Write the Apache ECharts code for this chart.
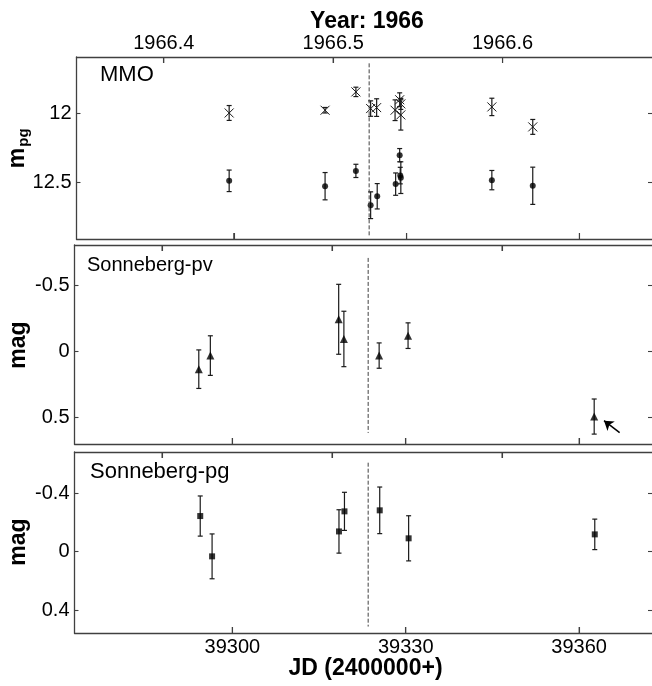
<!DOCTYPE html>
<html>
<head>
<meta charset="utf-8">
<script src="https://cdn.jsdelivr.net/npm/echarts@6/dist/echarts.min.js"></script>
<style>
  html, body { margin: 0; padding: 0; background: #fff; }
  #chart { width: 652px; height: 686px; }
</style>
</head>
<body>
<div id="chart"></div>
<script>
// x axis (JD - 2400000) and the year axis on top
const jdTicks = [39300, 39330, 39360];
const yearTicks = [1966.4, 1966.5, 1966.6];
const refJd = 39323.5; // dashed vertical line

// MMO, crosses (upper sequence)
const mmoCrossJd  = [39299.2, 39315.85, 39321.2, 39323.76, 39324.8, 39328.0, 39328.8, 39329.0, 39329.0, 39344.8, 39351.9];
const mmoCrossMag = [11.996, 11.976, 11.843, 11.964, 11.957, 11.976, 11.90, 11.93, 12.01, 11.952, 12.097];
const mmoCrossErr = [0.054, 0.02, 0.034, 0.056, 0.064, 0.075, 0.05, 0.04, 0.11, 0.063, 0.054];

// MMO, filled dots (lower sequence)
const mmoDotJd  = [39299.2, 39315.85, 39321.2, 39323.76, 39324.9, 39328.1, 39328.8, 39329.0, 39328.9, 39344.8, 39351.9];
const mmoDotMag = [12.488, 12.527, 12.416, 12.665, 12.60, 12.512, 12.302, 12.465, 12.45, 12.483, 12.524];
const mmoDotErr = [0.078, 0.099, 0.048, 0.097, 0.092, 0.081, 0.048, 0.115, 0.06, 0.07, 0.135];

// Sonneberg-pv, triangles
const pvJd  = [39294.2, 39296.2, 39318.4, 39319.3, 39325.4, 39330.4, 39362.6];
const pvMag = [0.133, 0.03, -0.245, -0.096, 0.03, -0.121, 0.492];
const pvErr = [0.146, 0.15, 0.265, 0.21, 0.096, 0.097, 0.133];
const pvArrow = [[39367.0, 0.614], [39364.3, 0.523]];

// Sonneberg-pg, squares
const pgJd  = [39294.45, 39296.5, 39318.45, 39319.4, 39325.5, 39330.5, 39362.7];
const pgMag = [-0.243, 0.032, -0.138, -0.275, -0.282, -0.091, -0.118];
const pgErr = [0.137, 0.153, 0.148, 0.13, 0.159, 0.154, 0.104];

// y ticks per panel
const mmoTicks = [12, 12.5];
const pvTicks = [-0.5, 0, 0.5];
const pgTicks = [-0.4, 0, 0.4];

const chart = echarts.init(document.getElementById('chart'));

const FONT = '"Liberation Sans", Arial, Helvetica, sans-serif';
const INK = '#1a1a1a';
const FRAME = '#404040';

const JD_MIN = 39272.7, JD_MAX = 39372.6;
const YEAR_MIN = 1966.3485, YEAR_MAX = 1966.6882;

const zip = (a, b, c) => a.map((v, i) => c ? [v, b[i], c[i]] : [v, b[i]]);

const errRender = (withCross) => function (params, api) {
  const x = api.value(0), y = api.value(1), e = api.value(2);
  const p = api.coord([x, y]);
  const lo = api.coord([x, y - e]);
  const hi = api.coord([x, y + e]);
  const c = 2.5;
  const style = { stroke: INK, lineWidth: 1.2 };
  const kids = [
    { type: 'line', shape: { x1: p[0], y1: lo[1], x2: p[0], y2: hi[1] }, style },
    { type: 'line', shape: { x1: p[0] - c, y1: lo[1], x2: p[0] + c, y2: lo[1] }, style },
    { type: 'line', shape: { x1: p[0] - c, y1: hi[1], x2: p[0] + c, y2: hi[1] }, style }
  ];
  if (withCross) {
    const s = 4.5;
    kids.push({ type: 'line', shape: { x1: p[0] - s, y1: p[1] - s, x2: p[0] + s, y2: p[1] + s }, style: { stroke: INK, lineWidth: 1 } });
    kids.push({ type: 'line', shape: { x1: p[0] - s, y1: p[1] + s, x2: p[0] + s, y2: p[1] - s }, style: { stroke: INK, lineWidth: 1 } });
  }
  return { type: 'group', children: kids };
};

// inward x tick marks on the top or bottom edge of a panel
const edgeTickRender = (atTop) => function (params, api) {
  const cs = params.coordSys;
  const px = api.coord([api.value(0), api.value(1)])[0];
  const y0 = atTop ? cs.y : cs.y + cs.height;
  const y1 = atTop ? y0 + 6 : y0 - 6;
  return { type: 'line', shape: { x1: px, y1: y0, x2: px, y2: y1 },
    style: { stroke: FRAME, lineWidth: 1.1 } };
};

const grids = [
  { left: 76.5, right: 0, top: 57, height: 182 },
  { left: 74.5, right: 0, top: 245, height: 199 },
  { left: 74.5, right: 0, top: 452, height: 181 }
];
const yRanges = [[11.59, 12.91], [-0.808, 0.70], [-0.68, 0.555]];
const yTickSets = [mmoTicks, pvTicks, pgTicks];

const tickStyle = { show: true, inside: true, length: 6, lineStyle: { color: FRAME, width: 1.1 } };
const labelStyle = { color: '#000', fontFamily: FONT, fontSize: 20 };
const frameLine = { show: true, onZero: false, lineStyle: { color: FRAME, width: 1.3 } };

const xAxes = [], yAxes = [];
grids.forEach((g, i) => {
  xAxes.push({
    gridIndex: i, type: 'value', position: 'bottom', min: JD_MIN, max: JD_MAX,
    axisLine: frameLine, splitLine: { show: false },
    axisTick: Object.assign({ customValues: jdTicks }, tickStyle),
    axisLabel: Object.assign({ show: i === 2, customValues: jdTicks, margin: 4,
      formatter: v => String(v) }, labelStyle)
  });
  xAxes.push({
    gridIndex: i, type: 'value', position: 'top', min: YEAR_MIN, max: YEAR_MAX,
    axisLine: frameLine, splitLine: { show: false },
    axisTick: Object.assign({ customValues: yearTicks }, tickStyle),
    axisLabel: Object.assign({ show: i === 0, customValues: yearTicks, margin: 4,
      formatter: v => v.toFixed(1) }, labelStyle)
  });
  yAxes.push({
    gridIndex: i, type: 'value', position: 'left', inverse: true,
    min: yRanges[i][0], max: yRanges[i][1],
    axisLine: frameLine, splitLine: { show: false },
    axisTick: Object.assign({ customValues: yTickSets[i] }, tickStyle, { length: 4 }),
    axisLabel: Object.assign({ customValues: yTickSets[i], margin: 5,
      formatter: v => String(Math.round(v * 10) / 10) }, labelStyle)
  });
  yAxes.push({
    gridIndex: i, type: 'value', position: 'right', inverse: true,
    min: yRanges[i][0], max: yRanges[i][1],
    axisLine: { show: false, onZero: false }, splitLine: { show: false },
    axisTick: Object.assign({ customValues: yTickSets[i] }, tickStyle, { length: 4 }),
    axisLabel: { show: false }
  });
});

const refLine = (i, lo, hi) => ({
  type: 'line', xAxisIndex: 2 * i, yAxisIndex: 2 * i, symbol: 'none',
  data: [[refJd, lo], [refJd, hi]],
  lineStyle: { color: FRAME, width: 1, type: [4, 2] }
});

// x tick marks for every panel (JD along the bottom, year along the top)
const tickSeries = [];
grids.forEach((g, i) => {
  const yMid = (yRanges[i][0] + yRanges[i][1]) / 2;
  tickSeries.push({ type: 'custom', xAxisIndex: 2 * i, yAxisIndex: 2 * i, silent: true,
    renderItem: edgeTickRender(false), encode: { x: 0, y: 1 },
    data: jdTicks.map(v => [v, yMid]) });
  tickSeries.push({ type: 'custom', xAxisIndex: 2 * i + 1, yAxisIndex: 2 * i, silent: true,
    renderItem: edgeTickRender(true), encode: { x: 0, y: 1 },
    data: yearTicks.map(v => [v, yMid]) });
});

const option = {
  animation: false,
  backgroundColor: '#fff',
  grid: grids.map(g => Object.assign({ show: false }, g)),
  xAxis: xAxes,
  yAxis: yAxes,
  graphic: [
    { type: 'text', x: 367, y: 22, style: { text: 'Year: 1966', font: 'bold 23px ' + FONT, fill: '#000', align: 'center', verticalAlign: 'middle' } },
    { type: 'text', x: 365.5, y: 669, style: { text: 'JD (2400000+)', font: 'bold 23px ' + FONT, fill: '#000', align: 'center', verticalAlign: 'middle' } },
    { type: 'text', x: 100, y: 75, style: { text: 'MMO', font: '22px ' + FONT, fill: '#000', align: 'left', verticalAlign: 'middle' } },
    { type: 'text', x: 87, y: 265, style: { text: 'Sonneberg-pv', font: '20px ' + FONT, fill: '#000', align: 'left', verticalAlign: 'middle' } },
    { type: 'text', x: 90, y: 472, style: { text: 'Sonneberg-pg', font: '22px ' + FONT, fill: '#000', align: 'left', verticalAlign: 'middle' } },
    { type: 'text', x: 18, y: 158, rotation: Math.PI / 2, style: { text: 'm', font: 'bold 23px ' + FONT, fill: '#000', align: 'center', verticalAlign: 'middle' } },
    { type: 'text', x: 24, y: 137.5, rotation: Math.PI / 2, style: { text: 'pg', font: 'bold 15px ' + FONT, fill: '#000', align: 'center', verticalAlign: 'middle' } },
    { type: 'text', x: 19, y: 345, rotation: Math.PI / 2, style: { text: 'mag', font: 'bold 23px ' + FONT, fill: '#000', align: 'center', verticalAlign: 'middle' } },
    { type: 'text', x: 19, y: 542, rotation: Math.PI / 2, style: { text: 'mag', font: 'bold 23px ' + FONT, fill: '#000', align: 'center', verticalAlign: 'middle' } }
  ],
  series: tickSeries.concat([
    refLine(0, 11.636, 12.895),
    refLine(1, -0.71, 0.616),
    refLine(2, -0.607, 0.511),
    // MMO
    { type: 'custom', xAxisIndex: 0, yAxisIndex: 0, renderItem: errRender(true),
      encode: { x: 0, y: 1 }, data: zip(mmoCrossJd, mmoCrossMag, mmoCrossErr) },
    { type: 'custom', xAxisIndex: 0, yAxisIndex: 0, renderItem: errRender(false),
      encode: { x: 0, y: 1 }, data: zip(mmoDotJd, mmoDotMag, mmoDotErr) },
    { type: 'scatter', xAxisIndex: 0, yAxisIndex: 0, symbol: 'circle', symbolSize: 6,
      itemStyle: { color: '#000' }, data: zip(mmoDotJd, mmoDotMag) },
    // Sonneberg-pv
    { type: 'custom', xAxisIndex: 2, yAxisIndex: 2, renderItem: errRender(false),
      encode: { x: 0, y: 1 }, data: zip(pvJd, pvMag, pvErr) },
    { type: 'scatter', xAxisIndex: 2, yAxisIndex: 2, symbol: 'triangle', symbolSize: 8,
      itemStyle: { color: '#000' }, data: zip(pvJd, pvMag),
      markLine: {
        silent: true, symbol: ['none', 'arrow'], symbolSize: 9,
        label: { show: false },
        lineStyle: { color: '#000', width: 1.5, type: 'solid' },
        data: [[{ coord: pvArrow[0] }, { coord: pvArrow[1] }]]
      } },
    // Sonneberg-pg
    { type: 'custom', xAxisIndex: 4, yAxisIndex: 4, renderItem: errRender(false),
      encode: { x: 0, y: 1 }, data: zip(pgJd, pgMag, pgErr) },
    { type: 'scatter', xAxisIndex: 4, yAxisIndex: 4, symbol: 'rect', symbolSize: 6,
      itemStyle: { color: '#000' }, data: zip(pgJd, pgMag) }
  ])
};

chart.setOption(option);
</script>
</body>
</html>
